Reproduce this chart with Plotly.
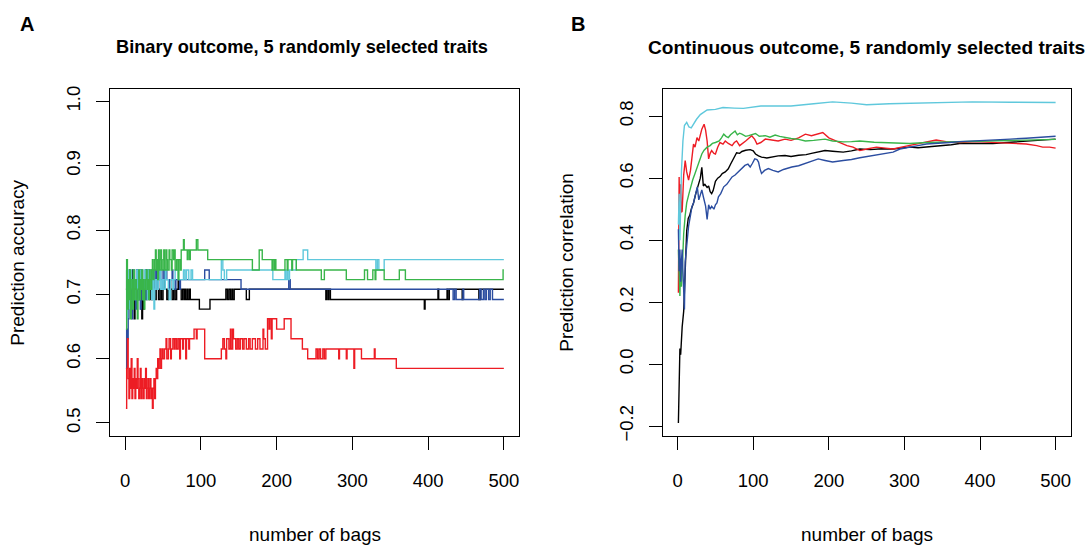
import plotly.graph_objects as go

# ---------------- Panel A: binary outcome (bag, prediction accuracy) ----------------
a_red = [(1,0.523),(2,0.585),(3,0.631),(4,0.569),(5,0.538),(6,0.585),(7,0.554),(8,0.6),(9,0.538),(10,0.569),
         (11,0.554),(12,0.585),(13,0.538),(14,0.569),(15,0.554),(16,0.6),(17,0.569),(18,0.538),(19,0.554),(20,0.585),
         (21,0.538),(22,0.569),(23,0.554),(24,0.538),(25,0.569),(26,0.554),(27,0.585),(28,0.538),(29,0.554),(30,0.569),
         (31,0.538),(32,0.554),(33,0.569),(34,0.538),(35,0.554),(36,0.523),(37,0.554),(38,0.569),(39,0.538),(40,0.569),
         (41,0.585),(42,0.569),(43,0.6),(44,0.585),(45,0.6),(46,0.615),(47,0.585),(48,0.6),(49,0.615),(50,0.6),
         (52,0.615),(54,0.631),(55,0.6),(57,0.615),(58,0.631),(60,0.6),(61,0.615),(63,0.631),(65,0.615),(66,0.631),
         (68,0.615),(70,0.631),(72,0.6),(73,0.631),(76,0.615),(77,0.631),(80,0.6),(81,0.631),(84,0.615),(85,0.631),
         (91,0.646),(94,0.631),(95,0.646),(105,0.6),(127,0.615),(129,0.631),(131,0.615),(133,0.6),(134,0.631),(137,0.615),
         (139,0.646),(140,0.615),(142,0.646),(143,0.631),(146,0.615),(148,0.631),(150,0.615),(152,0.631),(155,0.615),
         (157,0.631),(160,0.615),(163,0.631),(165,0.615),(168,0.631),(172,0.615),(175,0.631),(178,0.615),(182,0.646),
         (183,0.631),(185,0.615),(188,0.662),(190,0.646),(191,0.662),(193,0.631),(194,0.662),(200,0.646),(210,0.662),
         (219,0.631),(234,0.615),(241,0.6),(252,0.615),(254,0.6),(256,0.615),(258,0.6),(261,0.615),(263,0.6),
         (265,0.615),(282,0.6),(283,0.615),(292,0.6),(293,0.615),(302,0.585),(303,0.615),(312,0.6),(329,0.615),
         (330,0.6),(358,0.585),(500,0.585)]

a_black = [(1,0.708),(2,0.738),(3,0.692),(4,0.723),(5,0.677),(6,0.738),(7,0.708),(8,0.723),(9,0.692),(10,0.738),
           (11,0.708),(12,0.662),(13,0.723),(14,0.692),(15,0.738),(16,0.708),(17,0.723),(18,0.692),(19,0.708),(20,0.738),
           (21,0.677),(22,0.662),(23,0.692),(24,0.677),(25,0.723),(26,0.708),(27,0.738),(28,0.692),(29,0.723),(30,0.708),
           (31,0.738),(32,0.692),(33,0.708),(34,0.723),(35,0.692),(36,0.708),(38,0.723),(39,0.692),(41,0.708),(43,0.723),
           (44,0.692),(46,0.708),(48,0.692),(50,0.708),(52,0.723),(53,0.708),(55,0.692),(57,0.708),(59,0.723),(60,0.708),
           (62,0.692),(64,0.708),(66,0.692),(68,0.708),(70,0.723),(71,0.708),(74,0.692),(76,0.708),(78,0.692),(79,0.708),
           (80,0.692),(82,0.708),(83,0.692),(85,0.708),(86,0.692),(98,0.677),(112,0.692),(133,0.708),(135,0.692),
           (137,0.708),(139,0.692),(141,0.708),(142,0.692),(144,0.708),(160,0.692),(164,0.708),(265,0.692),(266,0.708),
           (268,0.692),(269,0.708),(271,0.692),(395,0.677),(396,0.692),(413,0.708),(414,0.692),(425,0.708),(426,0.692),
           (428,0.708),(445,0.692),(446,0.708),(467,0.692),(469,0.708),(500,0.708)]

a_blue = [(1,0.585),(2,0.646),(3,0.631),(4,0.662),(5,0.708),(6,0.677),(7,0.723),(8,0.692),(9,0.662),(10,0.708),
          (11,0.738),(12,0.692),(13,0.723),(14,0.677),(15,0.708),(16,0.738),(17,0.692),(18,0.723),(19,0.708),(20,0.677),
          (21,0.723),(22,0.738),(23,0.692),(24,0.708),(25,0.723),(26,0.692),(27,0.738),(28,0.708),(29,0.723),(30,0.738),
          (31,0.708),(33,0.723),(34,0.738),(36,0.708),(37,0.738),(39,0.723),(41,0.738),(42,0.708),(44,0.723),(46,0.738),
          (47,0.723),(49,0.708),(50,0.738),(52,0.723),(54,0.738),(55,0.723),(58,0.708),(59,0.723),(62,0.738),(63,0.723),
          (66,0.708),(67,0.723),(72,0.708),(73,0.723),(105,0.738),(111,0.723),(153,0.708),(216,0.723),(218,0.708),
          (433,0.692),(435,0.708),(437,0.692),(446,0.708),(447,0.692),(468,0.708),(470,0.692),(473,0.708),(475,0.692),
          (477,0.708),(480,0.692),(482,0.708),(485,0.692),(500,0.692)]

a_green = [(1,0.646),(2,0.754),(3,0.677),(4,0.723),(5,0.692),(6,0.738),(7,0.662),(8,0.708),(9,0.723),(10,0.677),
           (11,0.738),(12,0.692),(13,0.708),(14,0.723),(15,0.692),(16,0.662),(17,0.708),(18,0.738),(19,0.692),(20,0.723),
           (21,0.708),(22,0.738),(23,0.692),(24,0.723),(25,0.677),(26,0.708),(27,0.723),(28,0.738),(29,0.708),(30,0.723),
           (31,0.692),(32,0.738),(33,0.723),(34,0.708),(35,0.738),(36,0.754),(37,0.723),(38,0.738),(39,0.754),(40,0.769),
           (41,0.738),(42,0.754),(43,0.723),(44,0.769),(45,0.738),(46,0.754),(47,0.769),(48,0.738),(50,0.754),(51,0.769),
           (52,0.738),(54,0.769),(55,0.754),(56,0.738),(58,0.769),(59,0.754),(61,0.738),(62,0.769),(64,0.754),(65,0.769),
           (66,0.738),(68,0.754),(70,0.723),(71,0.754),(73,0.738),(74,0.769),(77,0.785),(78,0.769),(82,0.754),(83,0.769),
           (85,0.754),(86,0.769),(94,0.785),(96,0.769),(109,0.754),(168,0.738),(177,0.769),(181,0.754),(194,0.738),
           (195,0.754),(197,0.738),(198,0.754),(199,0.738),(211,0.754),(214,0.738),(215,0.754),(220,0.738),(221,0.754),
           (226,0.738),(259,0.723),(263,0.738),(292,0.723),(316,0.738),(320,0.723),(327,0.738),(330,0.723),(331,0.738),
           (342,0.723),(362,0.738),(370,0.723),(499,0.738),(500,0.738)]

a_cyan = [(1,0.754),(2,0.662),(3,0.738),(4,0.692),(5,0.723),(6,0.677),(7,0.738),(8,0.708),(9,0.723),(10,0.692),
          (11,0.738),(12,0.708),(13,0.692),(14,0.723),(15,0.738),(16,0.708),(17,0.723),(18,0.692),(19,0.738),(20,0.708),
          (21,0.723),(22,0.738),(23,0.708),(24,0.692),(25,0.723),(26,0.738),(27,0.708),(28,0.723),(29,0.692),(30,0.738),
          (31,0.723),(32,0.708),(33,0.738),(34,0.723),(35,0.692),(36,0.708),(37,0.738),(38,0.677),(39,0.708),(40,0.723),
          (42,0.708),(44,0.723),(46,0.738),(47,0.708),(49,0.723),(51,0.708),(53,0.738),(54,0.723),(57,0.708),(58,0.692),
          (60,0.723),(63,0.708),(64,0.723),(66,0.738),(70,0.723),(77,0.738),(79,0.723),(81,0.738),(84,0.723),(87,0.738),
          (89,0.723),(127,0.754),(129,0.738),(131,0.723),(134,0.738),(195,0.723),(211,0.738),(212,0.723),(214,0.738),
          (215,0.723),(217,0.738),(226,0.754),(235,0.769),(241,0.754),(331,0.738),(333,0.754),(335,0.738),(342,0.754),
          (500,0.754)]

# ---------------- Panel B: continuous outcome (bag, prediction correlation) ----------------
b_black = [(1,-0.19),(2,0.01),(3,0.05),(4,0.03),(5,0.08),(6,0.12),(8,0.17),(10,0.30),(12,0.43),(14,0.47),(16,0.48),
           (18,0.50),(21,0.52),(24,0.55),(26,0.57),(28,0.58),(30,0.60),(32,0.635),(34,0.575),(36,0.58),(39,0.57),
           (41,0.575),(43,0.556),(45,0.55),(47,0.56),(50,0.59),(53,0.60),(56,0.605),(59,0.615),(63,0.62),(67,0.63),
           (70,0.645),(74,0.665),(78,0.682),(82,0.68),(85,0.686),(90,0.69),(96,0.692),(100,0.688),(103,0.678),
           (107,0.672),(111,0.668),(118,0.665),(125,0.668),(133,0.672),(142,0.673),(150,0.67),(160,0.674),(170,0.676),
           (177,0.68),(185,0.683),(195,0.689),(205,0.687),(219,0.684),(230,0.688),(241,0.694),(255,0.692),(270,0.695),
           (285,0.694),(297,0.698),(307,0.70),(318,0.698),(329,0.70),(340,0.703),(351,0.705),(362,0.708),(373,0.712),
           (390,0.711),(405,0.712),(417,0.712),(430,0.714),(445,0.716),(461,0.718),(475,0.72),(490,0.723),(500,0.726)]

b_blue = [(1,0.435),(2,0.30),(3,0.37),(4,0.266),(5,0.33),(6,0.37),(7,0.30),(8,0.20),(9,0.176),(10,0.33),(12,0.39),
          (14.5,0.445),(17,0.48),(19,0.509),(21,0.52),(23,0.54),(25,0.56),(26,0.572),(28,0.53),(30,0.545),(32,0.562),
          (34,0.54),(37,0.51),(39,0.467),(41,0.514),(43,0.50),(45,0.509),(48,0.50),(50,0.514),(52,0.52),(54,0.54),
          (57,0.55),(61,0.572),(65,0.58),(68,0.59),(72,0.604),(76,0.61),(80,0.62),(85,0.63),(89,0.641),(93,0.645),
          (96,0.636),(99,0.648),(102,0.662),(105,0.66),(107,0.652),(109,0.63),(111,0.615),(115,0.625),(120,0.631),
          (126,0.625),(133,0.62),(140,0.628),(151,0.636),(160,0.64),(169,0.647),(178,0.655),(186,0.662),(195,0.657),
          (205,0.652),(219,0.657),(230,0.66),(241,0.666),(252,0.67),(263,0.676),(275,0.68),(285,0.684),(294,0.694),
          (305,0.70),(318,0.705),(329,0.71),(345,0.712),(360,0.715),(373,0.718),(395,0.72),(417,0.723),(440,0.726),
          (461,0.729),(480,0.731),(500,0.735)]

b_red = [(1,0.23),(2,0.604),(3,0.45),(4,0.58),(5,0.49),(6,0.493),(8,0.61),(10,0.657),(12,0.62),(14.5,0.594),(17,0.625),
         (19,0.66),(21,0.71),(23,0.70),(25.6,0.731),(28,0.72),(30,0.74),(32,0.758),(35,0.774),(37,0.755),(39,0.72),
         (41,0.662),(43,0.68),(45,0.689),(48,0.68),(50,0.678),(53,0.70),(56,0.715),(60,0.71),(63,0.72),(67,0.712),
         (72,0.705),(75,0.715),(78,0.72),(82,0.705),(85,0.71),(90,0.72),(98,0.737),(102,0.725),(105,0.71),(110,0.715),
         (116,0.726),(125,0.722),(133,0.72),(142,0.726),(150,0.722),(160,0.73),(169,0.742),(177,0.737),(185,0.742),
         (192,0.747),(200,0.73),(210,0.72),(224,0.705),(232,0.70),(241,0.689),(252,0.695),(263,0.70),(275,0.697),
         (285,0.694),(296,0.70),(307,0.705),(318,0.71),(329,0.715),(342,0.723),(355,0.718),(373,0.715),(395,0.718),
         (417,0.715),(440,0.713),(461,0.71),(475,0.705),(483,0.70),(492,0.70),(500,0.697)]

b_green = [(1,0.37),(2,0.30),(3,0.22),(4,0.34),(5,0.25),(6,0.30),(7,0.36),(8,0.42),(10,0.48),(12,0.52),(15,0.55),
           (17,0.572),(20,0.595),(23,0.615),(26,0.635),(28,0.647),(30,0.66),(32,0.678),(35,0.69),(39,0.70),(43,0.705),
           (46,0.712),(50,0.715),(55,0.72),(58,0.73),(61,0.742),(64,0.735),(67,0.731),(70,0.74),(73,0.745),(76,0.752),
           (79,0.74),(82,0.745),(85,0.742),(90,0.735),(94,0.737),(98,0.74),(103,0.744),(108,0.735),(116,0.737),
           (122,0.732),(129,0.739),(135,0.735),(142,0.731),(150,0.728),(160,0.725),(169,0.72),(180,0.722),(195,0.726),
           (205,0.72),(219,0.717),(230,0.718),(241,0.72),(260,0.716),(285,0.715),(307,0.712),(329,0.715),(350,0.716),
           (373,0.718),(395,0.719),(417,0.72),(440,0.721),(461,0.723),(480,0.724),(500,0.725)]

b_cyan = [(1,0.45),(2,0.55),(3,0.40),(5,0.62),(7,0.72),(9,0.77),(12,0.78),(15,0.765),(18,0.762),(21,0.775),(25,0.79),
          (30,0.805),(39,0.82),(50,0.822),(60,0.828),(75,0.826),(87,0.825),(110,0.833),(150,0.833),(180,0.84),
          (205,0.846),(230,0.842),(250,0.837),(280,0.84),(320,0.843),(390,0.846),(440,0.845),(500,0.844)]

series_colors = {"black": "#000000", "red": "#ED1C24", "green": "#39B54A", "blue": "#2B4DA0", "cyan": "#5FC8DC"}
panel_a = [("black", a_black), ("blue", a_blue), ("cyan", a_cyan), ("green", a_green), ("red", a_red)]
panel_b = [("black", b_black), ("red", b_red), ("green", b_green), ("blue", b_blue), ("cyan", b_cyan)]

x_ticks = [0, 100, 200, 300, 400, 500]
a_y_ticks = [0.5, 0.6, 0.7, 0.8, 0.9, 1.0]
a_y_labels = ["0.5", "0.6", "0.7", "0.8", "0.9", "1.0"]
b_y_ticks = [-0.2, 0.0, 0.2, 0.4, 0.6, 0.8]
b_y_labels = ["\u22120.2", "0.0", "0.2", "0.4", "0.6", "0.8"]

FONT = "Liberation Sans, Arial, Helvetica, sans-serif"
W, H = 1092, 554

fig = go.Figure()
for name, pts in panel_a:
    xs, ys = zip(*pts)
    fig.add_trace(go.Scatter(x=xs, y=ys, mode="lines", line=dict(color=series_colors[name], width=1.4, shape="hv"),
                             xaxis="x", yaxis="y", showlegend=False, hoverinfo="skip"))
for name, pts in panel_b:
    xs, ys = zip(*pts)
    fig.add_trace(go.Scatter(x=xs, y=ys, mode="lines", line=dict(color=series_colors[name], width=1.4),
                             xaxis="x2", yaxis="y2", showlegend=False, hoverinfo="skip"))

ydom = [1 - 440 / H, 1 - 87 / H]
common = dict(showline=True, linecolor="black", linewidth=1, mirror=True, ticks="outside", ticklen=13,
              tickwidth=1, tickcolor="black", showgrid=False, zeroline=False,
              tickfont=dict(family=FONT, size=18.5, color="black"))

fig.update_layout(
    width=W, height=H, margin=dict(l=0, r=0, t=0, b=0),
    paper_bgcolor="white", plot_bgcolor="white",
    xaxis=dict(domain=[110 / W, 519 / W], range=[-20, 520], tickvals=x_ticks, anchor="y",
               ticklabelstandoff=15, **common),
    yaxis=dict(domain=ydom, range=[0.48, 1.02], tickvals=a_y_ticks, ticktext=a_y_labels, anchor="x",
               tickangle=-90, ticklabelstandoff=9, **common),
    xaxis2=dict(domain=[663.3 / W, 1070.7 / W], range=[-18.96, 519.96], tickvals=x_ticks, anchor="y2",
                ticklabelstandoff=15, **common),
    yaxis2=dict(domain=ydom, range=[-0.2315, 0.889], tickvals=b_y_ticks, ticktext=b_y_labels, anchor="x2",
                tickangle=-90, ticklabelstandoff=9, **common),
)

def ann(text, x, y, size, bold=False, angle=0):
    fig.add_annotation(text=f"<b>{text}</b>" if bold else text, x=x / W, y=1 - y / H, xref="paper", yref="paper",
                       showarrow=False, textangle=angle, xanchor="center", yanchor="middle",
                       font=dict(family=FONT, size=size, color="black"))

ann("A", 27, 21, 20, bold=True)
ann("B", 578, 21, 20, bold=True)
ann("Binary outcome, 5 randomly selected traits", 301.5, 45, 18.2, bold=True)
ann("Continuous outcome, 5 randomly selected traits", 866.5, 45, 19.1, bold=True)
ann("number of bags", 314.5, 540, 19)
ann("number of bags", 867, 540, 19)
ann("Prediction accuracy", 18, 264, 19, angle=-90)
ann("Prediction correlation", 567, 264, 19, angle=-90)

fig.write_html("out.html")
